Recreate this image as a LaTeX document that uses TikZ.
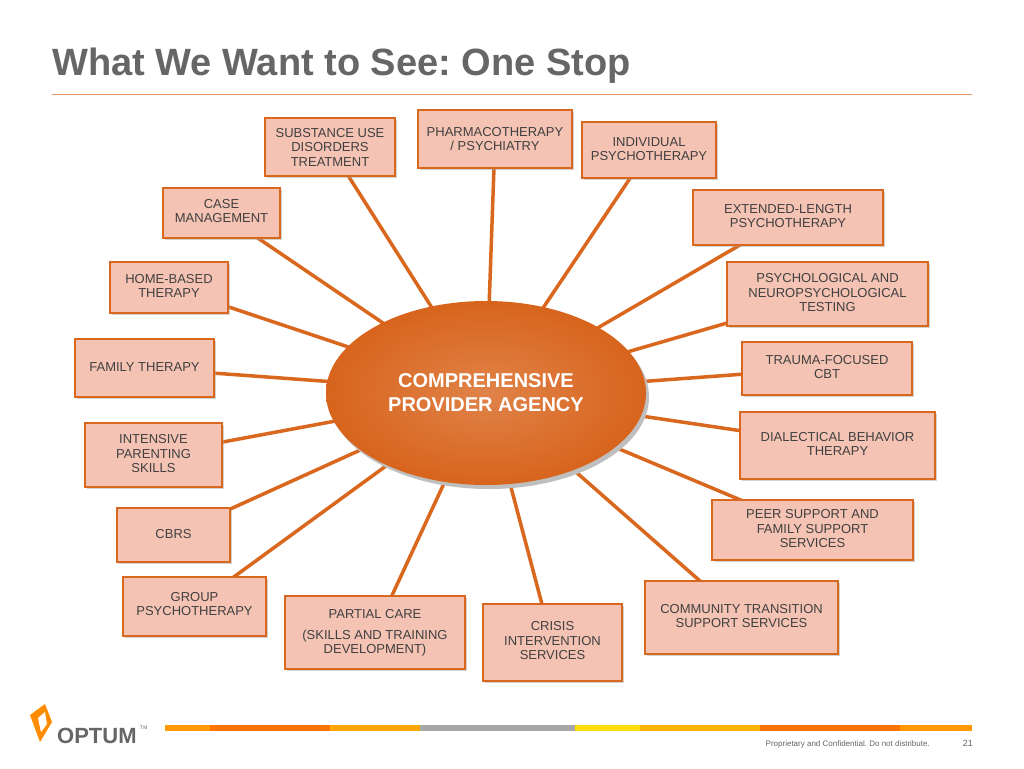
\documentclass[tikz,border=0pt]{standalone}
\usepackage{fontspec}
\setmainfont{Liberation Sans}
\usetikzlibrary{shadows}
\definecolor{boxfill}{HTML}{F4C3B4}
\definecolor{boxline}{HTML}{D9671E}
\definecolor{hub}{HTML}{D8641C}
\definecolor{titlegray}{HTML}{666666}
\tikzset{
    service/.style = {
        draw=boxline, line width=2.2pt, fill=boxfill, inner sep=0pt,
        drop shadow={shadow xshift=2pt, shadow yshift=-2pt, fill=black!35},
        },
    service text/.style = {
        text=black!75, inner sep=0pt, align=center,
        font=\fontsize{13}{14.5}\selectfont,
        },
    spoke/.style = {
        draw=boxline, line width=3.5pt,
        },
}
% #1 name, #2-#5 left top right bottom, #6 text centre y, #7 text
\newcommand{\servicebox}[7]{%
    \node[service, minimum width=#4-#2, minimum height=#5-#3] (#1) at ({(#2+#4)/2},{(#3+#5)/2}) {};
    \node[service text] (#1 text) at ({(#2+#4)/2},#6) {#7};}
\begin{document}
\frenchspacing
\begin{tikzpicture}[x=1pt,y=-1pt]
    \useasboundingbox (0,0) rectangle (1024,768);
    \fill[white] (0,0) rectangle (1024,768);

    % title
    \node[anchor=base west, text=titlegray, font=\fontsize{38}{40}\selectfont\bfseries, inner sep=0pt] (title) at (52,75) {What We Want to See: One Stop};
    \draw[boxline!70, line width=1pt] (52,94) -- (972,94);

    % hub and box centres
    \coordinate (c) at (486,393);
    \foreach \n/\x/\y in {sud/330/147, pharm/495/139, indiv/649/150, case/221/213, ext/788/217,
        home/169/287, test/827/294, family/144/368, trauma/827/368, parent/153/455,
        dbt/837/445, cbrs/173/535, peer/812/530, group/194/606, partial/375/632,
        crisis/552/642, comm/741/617}
        \draw[spoke] (c) -- (\x,\y);

    % boxes
    \servicebox{sud}{265}{118}{395}{176}{147}{SUBSTANCE USE\\DISORDERS\\TREATMENT}
    \servicebox{pharm}{418}{110}{572}{168}{139}{PHARMACOTHERAPY\\/ PSYCHIATRY}
    \servicebox{indiv}{582}{122}{716}{178}{149}{INDIVIDUAL\\PSYCHOTHERAPY}
    \servicebox{case}{163}{188}{280}{238}{211}{CASE\\MANAGEMENT}
    \servicebox{ext}{693}{190}{883}{245}{216}{EXTENDED-LENGTH\\PSYCHOTHERAPY}
    \servicebox{home}{110}{262}{228}{313}{286}{HOME-BASED\\THERAPY}
    \servicebox{test}{727}{262}{928}{326}{293}{PSYCHOLOGICAL AND\\NEUROPSYCHOLOGICAL\\TESTING}
    \servicebox{family}{75}{339}{214}{397}{367}{FAMILY THERAPY}
    \servicebox{trauma}{742}{342}{912}{395}{367}{TRAUMA-FOCUSED\\CBT}
    \servicebox{parent}{85}{423}{222}{487}{454}{INTENSIVE\\PARENTING\\SKILLS}
    \servicebox{dbt}{740}{412}{935}{479}{444}{DIALECTICAL BEHAVIOR\\THERAPY}
    \servicebox{cbrs}{117}{508}{230}{562}{534}{CBRS}
    \servicebox{peer}{712}{500}{913}{560}{529}{PEER SUPPORT AND\\FAMILY SUPPORT\\SERVICES}
    \servicebox{group}{123}{577}{266}{636}{604}{GROUP\\PSYCHOTHERAPY}
    \servicebox{partial}{285}{596}{465}{669}{633}{PARTIAL CARE\\[0.5em](SKILLS AND TRAINING\\DEVELOPMENT)}
    \servicebox{crisis}{483}{604}{622}{681}{641}{CRISIS\\INTERVENTION\\SERVICES}
    \servicebox{comm}{645}{581}{838}{654}{616}{COMMUNITY TRANSITION\\SUPPORT SERVICES}

    % hub ellipse
    \fill[black!25] (489,397) ellipse [x radius=160, y radius=92];
    \shade[inner color=hub!80!white, outer color=hub] (c) ellipse [x radius=160, y radius=92];
    \node[text=white, align=center, font=\fontsize{20}{24}\selectfont\bfseries] (hubtext) at (c) {COMPREHENSIVE\\PROVIDER AGENCY};

    % footer
    \fill[orange!90!yellow] (30,715) -- (45,704) -- (52,722) -- (40,742) -- cycle;
    \fill[white] (38,718) -- (45,712) -- (47,724) -- (41,732) -- cycle;
    \node[anchor=west, text=titlegray, font=\fontsize{22}{24}\selectfont\bfseries, inner sep=0pt] (logo) at (57,736) {OPTUM};
    \node[anchor=west, text=titlegray, font=\fontsize{5}{6}\selectfont, inner sep=0pt] (tm) at (140,728) {TM};
    \foreach \xa/\xb/\col in {165/210/orange!80!yellow,210/330/orange!90!red,330/420/orange!70!yellow,420/575/black!35,575/640/yellow!80!orange,640/760/orange!60!yellow,760/900/orange!90!red,900/972/orange!80!yellow}
        \fill[\col] (\xa,725) rectangle (\xb,731);
    \node[anchor=base east, text=titlegray, font=\fontsize{8}{9}\selectfont, inner sep=0pt] (conf) at (930,746) {Proprietary and Confidential. Do not distribute.};
    \node[anchor=base east, text=titlegray, font=\fontsize{9}{10}\selectfont, inner sep=0pt] (page) at (973,746) {21};
\end{tikzpicture}
\end{document}
